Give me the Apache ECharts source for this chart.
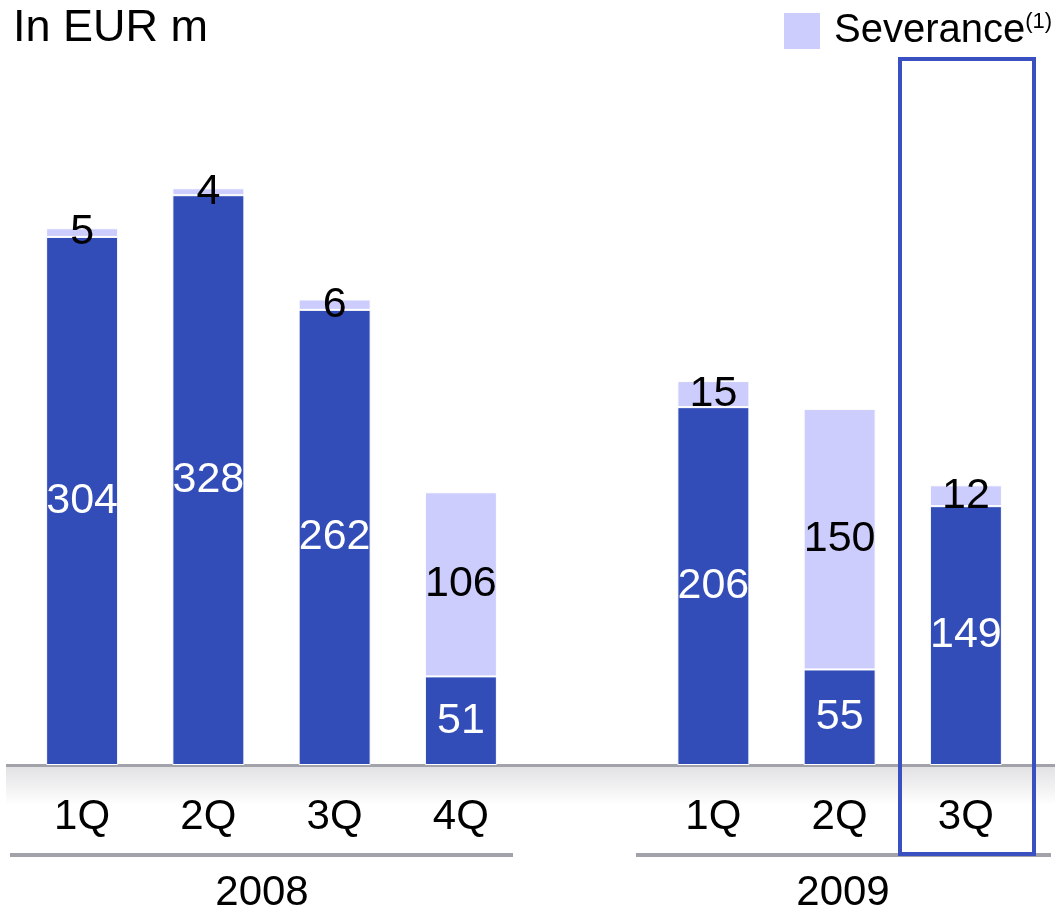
<!DOCTYPE html>
<html>
<head>
<meta charset="utf-8">
<script src="https://cdn.jsdelivr.net/npm/echarts@6/dist/echarts.min.js"></script>
<style>
  html, body { margin: 0; padding: 0; background: #fff; }
  #main { width: 1060px; height: 913px; }
</style>
</head>
<body>
<div id="main"></div>
<script>
// quarters, with an empty slot between the two years
const quarters = ['1Q', '2Q', '3Q', '4Q', '', '1Q', '2Q', '3Q']
const years = ['2008', '2009']
const baseValues = [304, 328, 262, 51, '-', 206, 55, 149]
const severanceValues = [5, 4, 6, 106, '-', 15, 150, 12]

const darkBlue = '#334db8'
const lightBlue = '#cccdfc'
const font = 'Liberation Sans, Arial, sans-serif'

let chart = echarts.init(document.getElementById('main'))
chart.setOption({
  animation: false,
  textStyle: { fontFamily: font },
  title: {
    text: 'In EUR m',
    left: 8,
    top: 1,
    textStyle: { fontSize: 45, fontWeight: 'normal', color: '#000', fontFamily: font }
  },
  legend: {
    data: ['Severance'],
    left: 777,
    top: 6,
    icon: 'rect',
    itemWidth: 38,
    itemHeight: 38,
    selectedMode: false,
    formatter: function (name) {
      return '{a|' + name + '}{b|(1)}'
    },
    textStyle: {
      rich: {
        a: { fontSize: 40, color: '#000', fontFamily: font, padding: [0, 0, 0, 8] },
        b: { fontSize: 22, color: '#000', fontFamily: font, verticalAlign: 'top', padding: [0, 0, 14, 0] }
      }
    }
  },
  grid: { left: 19, right: 31, top: 157, bottom: 148 },
  xAxis: {
    type: 'category',
    data: quarters,
    axisLine: { show: false },
    axisTick: { show: false },
    axisLabel: { fontSize: 42, color: '#000', margin: 31, fontFamily: font }
  },
  yAxis: {
    type: 'value',
    min: 0,
    max: 350,
    show: false,
    splitLine: { show: false }
  },
  series: [
    {
      name: 'Base',
      type: 'bar',
      stack: 'total',
      barWidth: 72,
      data: baseValues,
      itemStyle: { color: darkBlue, borderColor: '#fff', borderWidth: 1 },
      label: {
        show: true,
        position: 'inside',
        color: '#fff',
        fontSize: 43,
        fontFamily: font
      }
    },
    {
      name: 'Severance',
      type: 'bar',
      stack: 'total',
      barWidth: 72,
      data: severanceValues,
      itemStyle: { color: lightBlue, borderColor: '#fff', borderWidth: 1 },
      label: {
        show: true,
        position: 'inside',
        color: '#000',
        fontSize: 43,
        fontFamily: font
      }
    }
  ],
  graphic: [
    // shaded axis band
    {
      type: 'rect',
      shape: { x: 6, y: 767, width: 1049, height: 38 },
      style: {
        fill: new echarts.graphic.LinearGradient(0, 0, 0, 1, [
          { offset: 0, color: '#e2e2e4' },
          { offset: 1, color: '#ffffff' }
        ])
      },
      z: 0
    },
    {
      type: 'rect',
      shape: { x: 6, y: 764, width: 1049, height: 3 },
      style: { fill: '#a2a2aa' },
      z: 1
    },
    // year group lines
    {
      type: 'rect',
      shape: { x: 10, y: 853, width: 503, height: 4 },
      style: { fill: '#a2a2aa' }
    },
    {
      type: 'rect',
      shape: { x: 636, y: 853, width: 415, height: 4 },
      style: { fill: '#a2a2aa' }
    },
    {
      type: 'text',
      x: 262,
      y: 893,
      style: { text: years[0], fill: '#000', font: '42px ' + font, textAlign: 'center', textVerticalAlign: 'middle' }
    },
    {
      type: 'text',
      x: 843,
      y: 893,
      style: { text: years[1], fill: '#000', font: '42px ' + font, textAlign: 'center', textVerticalAlign: 'middle' }
    },
    // highlight box around 3Q 2009
    {
      type: 'rect',
      shape: { x: 900, y: 59, width: 134, height: 795 },
      style: { fill: 'none', stroke: '#3a4fc0', lineWidth: 4 },
      z: 10
    }
  ]
})
</script>
</body>
</html>
